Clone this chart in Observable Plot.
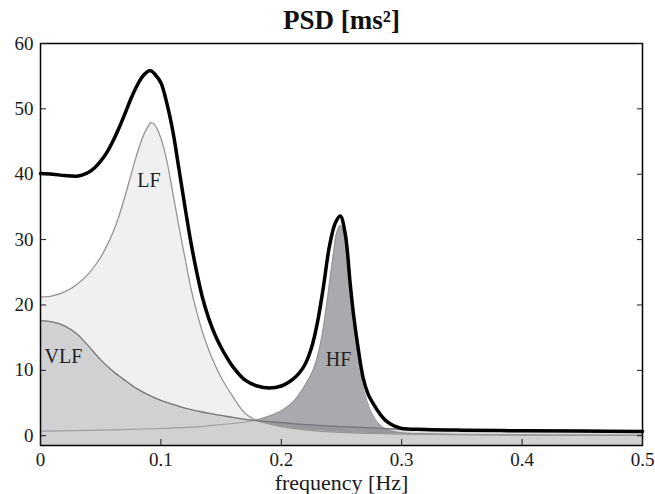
<!DOCTYPE html>
<html>
<head>
<meta charset="utf-8">
<script src="https://cdn.jsdelivr.net/npm/d3@7"></script>
<script src="https://cdn.jsdelivr.net/npm/@observablehq/plot@0.6"></script>
<style>
  html, body { margin: 0; padding: 0; background: #fff; }
  #chart svg { display: block; }
</style>
</head>
<body>
<div id="chart"></div>
<script>
// ---- Data ----
const titleText = "PSD [ms²]";
const xAxisLabel = "frequency [Hz]";

const xTicks = [0, 0.1, 0.2, 0.3, 0.4, 0.5];
const xTickLabels = ["0", "0.1", "0.2", "0.3", "0.4", "0.5"];
const yTicks = [0, 10, 20, 30, 40, 50, 60];
const yTickLabels = ["0", "10", "20", "30", "40", "50", "60"];
const yBase = -1.5;
const yTop = 60;

// VLF component
const vlfFreq  = [0, 0.01, 0.02, 0.03, 0.04, 0.05, 0.06, 0.07, 0.08, 0.09, 0.10, 0.11, 0.12, 0.13, 0.14, 0.15, 0.16, 0.17, 0.18, 0.20, 0.22, 0.25, 0.28, 0.30, 0.35, 0.40, 0.45, 0.50];
const vlfPower = [17.6, 17.4, 16.8, 15.6, 13.7, 11.6, 9.9, 8.5, 7.2, 6.2, 5.4, 4.8, 4.2, 3.8, 3.4, 3.1, 2.8, 2.5, 2.3, 2.0, 1.7, 1.4, 1.15, 1.0, 0.85, 0.72, 0.62, 0.55];

// LF component
const lfFreq  = [0, 0.01, 0.02, 0.03, 0.04, 0.05, 0.055, 0.06, 0.065, 0.07, 0.075, 0.08, 0.085, 0.09, 0.092, 0.095, 0.10, 0.105, 0.11, 0.116, 0.12, 0.125, 0.13, 0.135, 0.14, 0.145, 0.15, 0.16, 0.17, 0.18, 0.19, 0.20, 0.22, 0.25, 0.30, 0.40, 0.50];
const lfPower = [21.2, 21.4, 22.0, 23.1, 24.8, 27.3, 29.0, 31.0, 33.5, 36.5, 39.8, 43.0, 45.7, 47.5, 47.9, 47.5, 45.5, 42.0, 37.0, 31.0, 27.2, 22.5, 18.8, 15.6, 13.0, 10.8, 8.9, 5.9, 3.4, 2.3, 1.8, 1.4, 0.9, 0.5, 0.25, 0.1, 0.05];

// HF component
const hfFreq  = [0, 0.05, 0.10, 0.13, 0.15, 0.17, 0.18, 0.19, 0.20, 0.21, 0.22, 0.227, 0.233, 0.238, 0.243, 0.246, 0.249, 0.252, 0.255, 0.2575, 0.2605, 0.263, 0.266, 0.27, 0.275, 0.28, 0.285, 0.29, 0.30, 0.32, 0.35, 0.40, 0.50];
const hfPower = [0.7, 0.85, 1.1, 1.35, 1.7, 2.1, 2.45, 3.0, 3.8, 5.2, 7.8, 10.3, 14.5, 20.5, 27.5, 31.0, 32.2, 30.8, 27.0, 21.8, 16.0, 12.5, 9.0, 6.0, 3.5, 2.0, 1.2, 0.8, 0.45, 0.3, 0.2, 0.12, 0.06];

// Total PSD (black)
const totFreq  = [0, 0.01, 0.02, 0.03, 0.035, 0.04, 0.045, 0.05, 0.055, 0.06, 0.065, 0.07, 0.075, 0.08, 0.085, 0.09, 0.092, 0.095, 0.10, 0.105, 0.11, 0.115, 0.12, 0.125, 0.13, 0.135, 0.14, 0.145, 0.15, 0.155, 0.16, 0.17, 0.18, 0.19, 0.20, 0.21, 0.215, 0.22, 0.225, 0.23, 0.235, 0.24, 0.245, 0.249, 0.253, 0.2573, 0.26, 0.263, 0.268, 0.272, 0.277, 0.282, 0.288, 0.295, 0.30, 0.32, 0.35, 0.40, 0.45, 0.50];
const totPower = [40.1, 40.0, 39.8, 39.7, 39.9, 40.3, 41.0, 42.0, 43.3, 45.0, 47.0, 49.2, 51.5, 53.5, 55.0, 55.8, 55.8, 55.3, 54.0, 50.8, 46.5, 40.8, 35.0, 29.5, 24.8, 20.8, 17.8, 15.4, 13.5, 11.9, 10.5, 8.5, 7.6, 7.3, 7.6, 8.7, 9.6, 11.0, 13.4, 17.3, 22.8, 29.0, 32.6, 33.6, 31.0, 23.1, 18.5, 14.4, 8.8, 6.4, 4.7, 3.3, 2.1, 1.4, 1.1, 0.95, 0.85, 0.75, 0.7, 0.65];

// Band labels
const bandNames = ["VLF", "LF", "HF"];
const bandLabelFreq = [0.019, 0.090, 0.2475];
const bandLabelPower = [12.1, 39.1, 11.6];

// ---- Build tables ----
const toRows = (fs, vs) => fs.map((f, i) => ({f, v: vs[i]}));
const vlf = toRows(vlfFreq, vlfPower);
const lf = toRows(lfFreq, lfPower);
const hf = toRows(hfFreq, hfPower);
const total = toRows(totFreq, totPower);
const labels = bandNames.map((name, i) => ({name, f: bandLabelFreq[i], v: bandLabelPower[i]}));

const curve = "catmull-rom";
const serif = "'Liberation Serif', 'Times New Roman', 'DejaVu Serif', serif";

const chart = Plot.plot({
  width: 655,
  height: 494,
  marginLeft: 40,
  marginRight: 13,
  marginTop: 43,
  marginBottom: 49,
  style: {fontFamily: serif, fontSize: "19px", color: "#1a1a1a", background: "white", overflow: "visible"},
  x: {domain: [0, 0.5]},
  y: {domain: [yBase, yTop]},
  marks: [
    Plot.areaY(hf, {x: "f", y1: yBase, y2: "v", fill: "#a9aaad", curve}),
    Plot.areaY(lf, {x: "f", y1: yBase, y2: "v", fill: "#f0f0f0", curve}),
    Plot.areaY(vlf, {x: "f", y1: yBase, y2: "v", fill: "#50545c", fillOpacity: 0.2, curve}),
    Plot.lineY(hf, {x: "f", y: "v", stroke: "#8c8d90", strokeWidth: 1.1, strokeOpacity: 0.75, curve}),
    Plot.lineY(lf, {x: "f", y: "v", stroke: "#959595", strokeWidth: 1.3, curve}),
    Plot.lineY(vlf, {x: "f", y: "v", stroke: "#75767a", strokeWidth: 1.3, curve}),
    Plot.lineY(total, {x: "f", y: "v", stroke: "#000", strokeWidth: 3.5, curve}),
    Plot.text(labels, {x: "f", y: "v", text: "name", fontSize: 20, fill: "#222"}),
    Plot.frame({stroke: "#000", strokeWidth: 1.5}),
    Plot.axisX({ticks: xTicks, tickFormat: d => xTickLabels[xTicks.indexOf(d)], tickSize: -6, tickPadding: 13, label: null, fontSize: 19}),
    Plot.axisY({ticks: yTicks, tickFormat: d => yTickLabels[yTicks.indexOf(d)], tickSize: -6, tickPadding: 13, label: null, fontSize: 19}),
    Plot.axisY({anchor: "right", ticks: yTicks, tickFormat: () => "", tickSize: -6, label: null}),
    Plot.text([xAxisLabel], {frameAnchor: "bottom", lineAnchor: "middle", dy: 37, fontSize: 22, fill: "#1a1a1a"}),
    Plot.text([titleText], {frameAnchor: "top", lineAnchor: "middle", dy: -23, fontSize: 27, fontWeight: "bold", fill: "#111"})
  ]
});

document.getElementById("chart").appendChild(chart);
</script>
</body>
</html>
